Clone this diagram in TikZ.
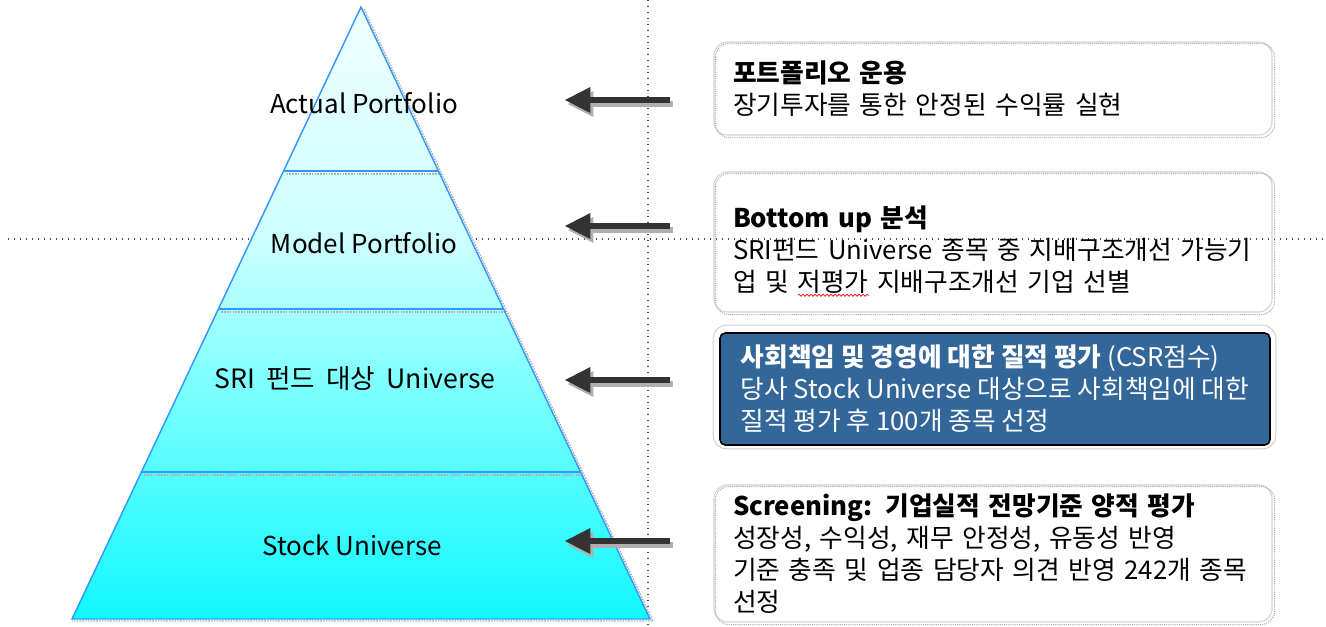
\documentclass[tikz,border=0pt]{standalone}
\usepackage{fontspec}
\setmainfont{Noto Sans CJK KR}
\usetikzlibrary{positioning,calc,arrows.meta,decorations.pathmorphing}
\tikzstyle{pixelGrid} = [x = 0.75pt, y = -0.75pt]
\definecolor{edgeBlue}{RGB}{51,153,255}
\definecolor{arrowGray}{RGB}{51,51,51}
\definecolor{shadowGray}{RGB}{175,175,175}
\definecolor{boxBlue}{RGB}{51,102,153}
\definecolor{boxLine}{RGB}{210,210,210}
\definecolor{guideGray}{RGB}{70,70,70}
\definecolor{pyrTop}{RGB}{240,255,255}
\definecolor{pyrUpper}{RGB}{205,255,255}
\definecolor{pyrMid}{RGB}{128,255,255}
\definecolor{pyrBottom}{RGB}{16,248,255}
\pgfdeclareverticalshading{pyramidShade}{100bp}{color(0bp)=(pyrBottom); color(25bp)=(pyrBottom); color(44.5bp)=(pyrMid); color(56bp)=(pyrUpper); color(75bp)=(pyrTop); color(100bp)=(pyrTop)}
\tikzstyle{edgeLine} = [draw=edgeBlue, line width=1.1pt]
\tikzstyle{levelShadow} = [draw=shadowGray, line width=1pt, dash pattern=on 1.2pt off 0.9pt]
\tikzstyle{guideLine} = [draw=guideGray, line width=1pt, dash pattern=on 1pt off 3.5pt]
\tikzstyle{levelLabel} = [font=\fontsize{19.5pt}{24pt}\selectfont, inner sep=0pt]
\tikzstyle{levelArrow} = [draw=arrowGray, line width=4.5pt, -{Triangle[length=19pt, width=19.5pt, line width=0pt]}]
\tikzstyle{arrowShadow} = [draw=shadowGray, line width=4.5pt, -{Triangle[length=19pt, width=19.5pt, line width=0pt]}]
\tikzstyle{infoBox} = [draw=boxLine, line width=0.8pt, rounded corners=10pt, align=left, font=\fontsize{19.3pt}{24pt}\selectfont]
\tikzstyle{wideText} = [text width=390pt, inner xsep=14.25pt]
\tikzstyle{infoShadow} = [draw=shadowGray, line width=0.8pt, dash pattern=on 0.8pt off 0.8pt, rounded corners=10pt]
\tikzstyle{spellWave} = [draw=red, line width=0.5pt, sharp corners, solid, decorate, decoration={snake, amplitude=0.8pt, segment length=3pt}]
\newcommand{\spellMark}[1]{\setbox0\hbox{#1}\rlap{\tikz[baseline=0pt, sharp corners] \draw [spellWave] (0pt,-3pt) -- (\wd0,-3pt);}#1}
\newcommand{\lowerStart}{\rule{0pt}{30pt}}

\begin{document}
\begin{tikzpicture}[pixelGrid]
  \useasboundingbox (0,0) rectangle (1326,626);
  \draw [guideLine] (648,0) -- (648,626);
  \draw [guideLine] (8,239) -- (1326,239);

  \coordinate (apex) at (361,7);
  \coordinate (baseLeft) at (72,619);
  \coordinate (baseRight) at (650,619);
  \draw [levelShadow] ([shift={(3,2)}]apex) -- ([shift={(3,2)}]baseRight) -- ([shift={(0,2)}]baseLeft);
  \shade [shading=pyramidShade] (apex) -- (baseRight) -- (baseLeft) -- cycle;
  \foreach \t in {0.268,0.4935,0.760} {
    \draw [levelShadow] ($(apex)!\t!(baseLeft)+(3,3)$) -- ($(apex)!\t!(baseRight)+(3,3)$);
    \draw [edgeLine] ($(apex)!\t!(baseLeft)$) -- ($(apex)!\t!(baseRight)$);
  }
  \draw [edgeLine] (apex) -- (baseRight) -- (baseLeft) -- cycle;

  \node [levelLabel] (actualLabel) at (364,103) {Actual Portfolio};
  \node [levelLabel] (modelLabel) at (364,243) {Model Portfolio};
  \node [levelLabel, font=\fontsize{20pt}{24pt}\selectfont] (sriLabel) at (355,379) {\spaceskip=0.42em SRI 펀드 대상 Universe};
  \node [levelLabel] (stockLabel) at (352,545) {Stock Universe};

  \foreach \name/\y in {A/100,B/226,C/380,D/541} {
    \coordinate (tail\name) at (670,\y);
    \coordinate (tip\name) at (565,\y);
    \draw [arrowShadow] ([shift={(3,4)}]tail\name) -- ([shift={(3,4)}]tip\name);
    \draw [levelArrow] (tail\name) -- (tip\name);
  }

  \node [infoBox, wideText, minimum height=69.75pt] (boxA) at (993,88.5)
    {\textbf{포트폴리오 운용}\\장기투자를 통한 안정된 수익률 실현};
  \node [infoBox, wideText, minimum height=105pt] (boxB) at (993,242)
    {\lowerStart\textbf{Bottom up 분석}\\SRI펀드 Universe 종목 중 지배구조개선 가능기\\업 및 \spellMark{저평가} 지배구조개선 기업 선별};
  \node [infoBox, fill=boxBlue, draw=black, line width=1.2pt, rounded corners=4pt, text=white, minimum width=412.5pt, minimum height=84pt] (boxC) at (995,389)
    {\textbf{사회책임 및 경영에 대한 질적 평가} (CSR점수)\\당사 Stock Universe 대상으로 사회책임에 대한\\질적 평가 후 100개 종목 선정};
  \node [infoBox, wideText, minimum height=102.75pt] (boxD) at (993,553.5)
    {\textbf{Screening: 기업실적 전망기준 양적 평가}\\성장성, 수익성, 재무 안정성, 유동성 반영\\기준 충족 및 업종 담당자 의견 반영 242개 종목\\선정};

  \foreach \name in {boxA,boxB,boxD} {
    \draw [infoShadow] ([shift={(2,2)}]\name.north west) rectangle ([shift={(2,2)}]\name.south east);
  }
  \draw [boxLine, line width=0.8pt, rounded corners=10pt] ($(boxC.north west)+(-6,-7)$) rectangle ($(boxC.south east)+(5,3)$);
\end{tikzpicture}
\end{document}
